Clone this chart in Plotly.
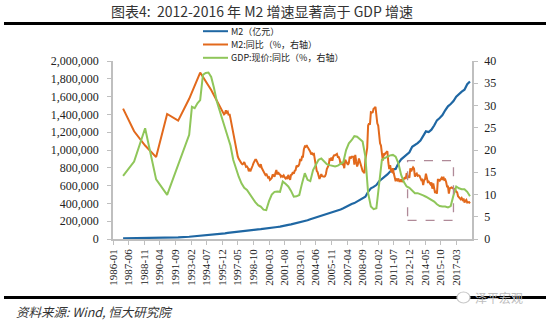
import pandas as pd
import plotly.graph_objects as go

# ---------------- data ----------------
# M2 stock (100 million yuan): year-end values 1986-1995, quarter-end values afterwards
m2_dates = [f"{y}-12" for y in range(1986, 1996)] + \
    [f"{y}-{q:02d}" for y in range(1996, 2019) for q in (3, 6, 9, 12)][:-2]
m2_level = [
    6721, 8349, 10099, 11950, 15293, 19350, 25402, 34880, 46923, 60750,
    64000, 68500, 72800, 76095,
    80000, 82800, 86000, 90995,
    92000, 95000, 99600, 104499,
    108400, 111000, 113700, 119898,
    123000, 126600, 128800, 134610,
    139000, 147800, 151800, 158302,
    164000, 170900, 176500, 185007,
    194500, 204900, 210000, 221223,
    231600, 238400, 243800, 254107,
    264600, 275800, 287400, 298756,
    310500, 322800, 331900, 345578,
    364100, 377800, 393100, 403442,
    423100, 443100, 452900, 475167,
    530600, 568900, 585400, 606225,
    649900, 673900, 696500, 725852,
    758100, 780800, 787400, 851591,
    895600, 924900, 943700, 974149,
    1035900, 1054000, 1077400, 1106525,
    1160700, 1209600, 1202100, 1228375,
    1275300, 1333400, 1359800, 1392278,
    1446200, 1490500, 1516400, 1550067,
    1599600, 1631300, 1655700, 1676769,
    1739900, 1770200,
]

# M2 year-on-year growth (%): annual 1986-1995, monthly from 1996-01
m2_yoy_dates = [f"{y}-12" for y in range(1986, 1996)] + \
    [p.strftime("%Y-%m") for p in pd.period_range("1996-01", "2018-06", freq="M")]
m2_yoy = [
    29.3, 24.2, 21.0, 18.4, 28.1, 26.6, 31.5, 37.4, 33.5, 29.0,
    # 1996
    28.5, 28.0, 28.2, 28.9, 28.4, 28.6, 27.8, 28.1, 27.1, 26.0, 24.8, 23.5,
    # 1997
    22.0, 21.0, 20.2, 19.5, 18.5, 18.0, 17.6, 17.3, 17.0, 16.8, 16.9, 17.3,
    # 1998
    16.5, 16.2, 16.3, 16.0, 15.2, 15.6, 15.4, 15.8, 16.4, 17.0, 17.6, 17.8,
    # 1999
    17.8, 17.2, 17.0, 16.5, 16.3, 16.8, 16.0, 15.6, 15.0, 14.6, 14.4, 14.7,
    # 2000
    14.1, 13.8, 13.9, 13.3, 13.5, 13.7, 14.5, 14.2, 14.0, 14.8, 15.5, 14.5,
    # 2001
    15.0, 14.6, 14.5, 14.0, 14.2, 14.0, 14.3, 13.9, 13.6, 13.8, 13.5, 14.4,
    # 2002
    13.6, 13.3, 14.4, 14.5, 15.0, 14.7, 15.3, 15.5, 16.5, 16.3, 16.4, 16.8,
    # 2003
    18.0, 17.5, 18.5, 18.5, 20.2, 20.8, 20.7, 21.1, 20.7, 20.4, 20.0, 19.6,
    # 2004
    19.0, 19.4, 19.0, 19.1, 17.8, 16.2, 15.3, 15.0, 13.9, 13.5, 14.0, 14.6,
    # 2005
    14.1, 14.0, 14.0, 14.1, 14.6, 15.7, 16.3, 16.6, 17.9, 17.8, 18.3, 17.6,
    # 2006
    18.5, 18.8, 18.8, 18.9, 19.1, 18.4, 18.4, 17.9, 16.8, 17.1, 16.8, 16.9,
    # 2007
    15.9, 17.8, 17.3, 17.1, 16.7, 17.1, 18.5, 18.1, 18.5, 18.5, 18.5, 16.7,
    # 2008
    18.9, 17.5, 16.3, 16.9, 18.1, 17.4, 16.4, 16.0, 15.3, 15.0, 14.8, 17.8,
    # 2009
    18.8, 20.5, 25.5, 26.0, 25.7, 28.5, 28.4, 28.5, 29.3, 29.4, 29.7, 27.7,
    # 2010
    26.0, 25.5, 22.5, 21.5, 21.0, 18.5, 17.6, 19.2, 19.0, 19.3, 19.5, 19.7,
    # 2011
    17.2, 15.7, 16.6, 15.3, 15.1, 15.9, 14.7, 13.5, 13.0, 13.4, 13.2, 13.6,
    # 2012
    13.0, 13.0, 13.4, 12.8, 13.2, 13.6, 13.9, 13.5, 14.8, 14.1, 13.9, 13.8,
    # 2013
    15.9, 15.2, 15.7, 16.1, 15.8, 14.0, 14.5, 14.7, 14.2, 14.3, 14.2, 13.6,
    # 2014
    13.2, 13.3, 12.1, 13.2, 13.4, 14.7, 13.5, 12.8, 12.9, 12.6, 12.3, 12.7,
    # 2015
    11.3, 12.5, 11.6, 10.3, 10.8, 10.2, 13.3, 13.3, 13.1, 13.5, 13.7, 13.3,
    # 2016
    14.0, 13.3, 13.4, 12.8, 11.8, 11.8, 10.2, 11.4, 11.5, 11.6, 11.4, 11.3,
    # 2017
    11.3, 11.1, 10.6, 10.5, 9.6, 9.4, 9.2, 8.9, 9.2, 8.8, 9.1, 8.2,
    # 2018
    8.6, 8.8, 8.2, 8.3, 8.3, 8.0,
]

# Nominal GDP year-on-year growth (%): annual 1986-1992, quarterly from 1993
gdp_dates = [f"{y}-12" for y in range(1986, 1993)] + \
    [f"{y}-{q:02d}" for y in range(1993, 2019) for q in (3, 6, 9, 12)][:-2]
gdp_yoy = [
    14.2, 17.4, 24.9, 13.4, 9.9, 16.7, 23.4,
    29.7, 29.4, 30.5, 31.2,   # 1993
    36.9, 37.3, 37.4, 36.4,   # 1994
    34.0, 31.0, 29.0, 27.0,   # 1995
    25.2, 23.0, 21.0, 17.8,   # 1996
    15.8, 14.0, 12.5, 11.5,   # 1997
    11.0, 10.0, 9.0, 8.3,     # 1998
    7.6, 7.3, 6.6, 6.5,       # 1999
    8.5, 10.0, 10.6, 10.7,    # 2000
    10.6, 12.9, 12.4, 11.8,   # 2001
    10.8, 9.5, 9.6, 9.9,      # 2002
    12.5, 14.8, 13.3, 13.0,   # 2003
    15.5, 16.5, 17.8, 18.1,   # 2004
    17.4, 16.8, 16.6, 16.4,   # 2005
    16.3, 16.5, 17.0, 17.3,   # 2006
    20.0, 21.5, 22.2, 23.1,   # 2007
    23.0, 22.5, 21.9, 18.5,   # 2008
    10.3, 7.3, 6.7, 6.9,      # 2009
    12.5, 17.8, 18.2, 18.5,   # 2010
    18.8, 18.9, 18.5, 17.0,   # 2011
    14.4, 12.8, 11.8, 11.5,   # 2012
    10.8, 10.3, 10.3, 10.1,   # 2013
    9.8, 9.5, 9.1, 8.6,       # 2014
    8.4, 7.8, 7.4, 7.3,       # 2015
    7.3, 7.1, 7.4, 9.8,       # 2016
    11.8, 11.4, 11.2, 11.2,   # 2017
    10.6, 9.6,                # 2018
]

tick_labels = [
    "1986-01", "1987-06", "1988-11", "1990-04", "1991-09", "1993-02",
    "1994-07", "1995-12", "1997-05", "1998-10", "2000-03", "2001-08",
    "2003-01", "2004-06", "2005-11", "2007-04", "2008-09", "2010-02",
    "2011-07", "2012-12", "2014-05", "2015-10", "2017-03",
]

series_names = ["M2（亿元）", "M2:同比（%，右轴）", "GDP:现价:同比（%，右轴）"]

# highlighted window (month label range, right-axis value range)
box_months = ["2012-10", "2016-12"]
box_values = [4.2, 17.6]


def month_index(label):
    """Months elapsed since 1986-01 for a 'YYYY-MM' label."""
    y, m = label.split("-")
    return (int(y) - 1986) * 12 + int(m) - 1


BLUE = "#1F67A3"
ORANGE = "#E2691C"
GREEN = "#8FC65A"
AXIS = "#BFBFBF"
SERIF = "Liberation Serif, serif"
CJK = "Noto Sans CJK SC"

# plot-area geometry in pixels, used to place the paper-referenced extras
PL, PR, PT, PB = 113, 472, 61, 239


def px(x):
    return (x - PL) / (PR - PL)


def py(y):
    return (PB - y) / (PB - PT)


fig = go.Figure()
fig.add_trace(go.Scatter(
    x=[month_index(d) for d in m2_dates], y=m2_level, mode="lines",
    line=dict(color=BLUE, width=2.2), name=series_names[0], yaxis="y"))
fig.add_trace(go.Scatter(
    x=[month_index(d) for d in m2_yoy_dates], y=m2_yoy, mode="lines",
    line=dict(color=ORANGE, width=2), name=series_names[1], yaxis="y2"))
fig.add_trace(go.Scatter(
    x=[month_index(d) for d in gdp_dates], y=gdp_yoy, mode="lines",
    line=dict(color=GREEN, width=2), name=series_names[2], yaxis="y2"))

# dashed highlight box
fig.add_shape(type="rect", xref="x", yref="y2",
              x0=month_index(box_months[0]), x1=month_index(box_months[1]),
              y0=box_values[0], y1=box_values[1],
              line=dict(color="#B08A98", width=1.3, dash="dash"))

fig.update_layout(
    width=550, height=323,
    margin=dict(l=PL, r=550 - PR, t=PT, b=323 - PB, pad=0, autoexpand=False),
    paper_bgcolor="white", plot_bgcolor="white",
    showlegend=False,
    xaxis=dict(
        range=[0, 391.2], tickmode="array",
        tickvals=[month_index(t) for t in tick_labels], ticktext=tick_labels,
        tickangle=-90, ticks="outside", ticklen=4, tickcolor=AXIS,
        showline=True, linecolor=AXIS, linewidth=1.5, showgrid=False,
        zeroline=False, tickfont=dict(family=SERIF, size=11, color="#222"),
    ),
    yaxis=dict(
        range=[0, 2000000], dtick=200000, tickformat=",",
        ticks="outside", ticklen=4, tickcolor=AXIS, ticklabelstandoff=6,
        showline=True, linecolor=AXIS, linewidth=1.5, showgrid=False,
        zeroline=False, tickfont=dict(family=SERIF, size=12, color="#222"),
    ),
    yaxis2=dict(
        range=[0, 40], dtick=5, overlaying="y", side="right",
        ticks="outside", ticklen=4, tickcolor=AXIS, ticklabelstandoff=4,
        showline=True, linecolor=AXIS, linewidth=1.5, showgrid=False,
        zeroline=False, tickfont=dict(family=SERIF, size=12, color="#222"),
    ),
)

# hand-placed legend: three compact rows
LEG_SIZE = 9
row_gap = 13.3
row_mid = 44.5
for i, (label, color) in enumerate(zip(series_names, [BLUE, ORANGE, GREEN])):
    yc = row_mid + (i - 1) * row_gap
    fig.add_shape(type="line", xref="paper", yref="paper",
                  x0=px(203), x1=px(228), y0=py(yc), y1=py(yc),
                  line=dict(color=color, width=2))
    fig.add_annotation(xref="paper", yref="paper", x=px(230), y=py(yc),
                       xanchor="left", yanchor="middle", showarrow=False,
                       borderpad=0, text=label,
                       font=dict(family=CJK, size=LEG_SIZE, color="#222"))

# title and frame rules
fig.add_annotation(xref="paper", yref="paper", x=px(262), y=py(11),
                   xanchor="center", yanchor="middle", showarrow=False,
                   text="图表4:  2012-2016 年 M2 增速显著高于 GDP 增速",
                   font=dict(family=CJK, size=14, color="#333"))
for yline in (23.5, 297.5):
    fig.add_shape(type="line", xref="paper", yref="paper",
                  x0=px(4), x1=px(546), y0=py(yline), y1=py(yline),
                  line=dict(color="black", width=3))

# source note
fig.add_annotation(xref="paper", yref="paper", x=px(14), y=py(311),
                   xanchor="left", yanchor="middle", showarrow=False,
                   text="<i>资料来源: Wind, 恒大研究院</i>",
                   font=dict(family=CJK, size=12.5, color="#333"))

# watermark
fig.add_shape(type="circle", xref="paper", yref="paper",
              x0=px(457), x1=px(470), y0=py(303), y1=py(292),
              line=dict(color="#C8C8C8", width=1.2), fillcolor="white")
fig.add_annotation(xref="paper", yref="paper", x=px(499), y=py(297),
                   xanchor="center", yanchor="middle", showarrow=False,
                   text="泽平宏观",
                   font=dict(family=CJK, size=12, color="#BDBDBD"))

fig.write_html("out.html")
